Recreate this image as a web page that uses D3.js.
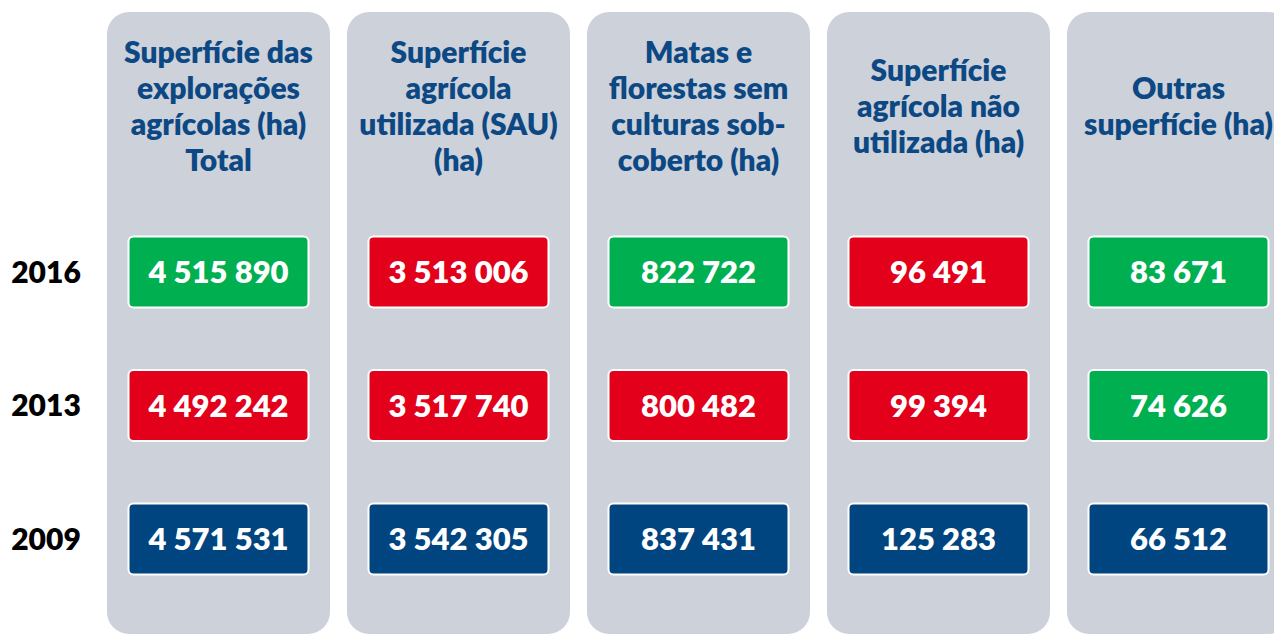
<!DOCTYPE html>
<html>
<head>
<meta charset="utf-8">
<script src="https://cdn.jsdelivr.net/npm/d3@7"></script>
<style>
  html, body { margin: 0; padding: 0; background: #fff; }
  text { font-family: Lato, "Open Sans", sans-serif; font-weight: 800; }
</style>
</head>
<body>
<div id="chart"></div>
<script>
  // column headers, already broken in lines as in the original slide
  const categories = [
    ["Superfície das", "explorações", "agrícolas (ha)", "Total"],
    ["Superfície", "agrícola", "utilizada (SAU)", "(ha)"],
    ["Matas e", "florestas sem", "culturas sob-", "coberto (ha)"],
    ["Superfície", "agrícola não", "utilizada (ha)"],
    ["Outras", "superfície (ha)"]
  ];
  const years = ["2016", "2013", "2009"];
  const values2016 = [4515890, 3513006, 822722, 96491, 83671];
  const values2013 = [4492242, 3517740, 800482, 99394, 74626];
  const values2009 = [4571531, 3542305, 837431, 125283, 66512];
  // up = grew vs previous survey, down = fell, base = reference year
  const trend2016 = ["up", "down", "up", "down", "up"];
  const trend2013 = ["down", "down", "down", "down", "up"];
  const trend2009 = ["base", "base", "base", "base", "base"];

  const width = 1274;
  const height = 634;
  const panelTop = 12;
  const boxW = 180;
  const boxH = 71;
  const colors = { up: "#00B050", down: "#E2001A", base: "#004480" };

  const svg = d3.select("#chart")
    .append("svg")
    .attr("width", width)
    .attr("height", height);

  const x = d3.scaleBand()
    .domain(d3.range(categories.length))
    .range([107, 1290])
    .paddingInner(17 / 240)
    .paddingOuter(0);

  const y = d3.scalePoint()
    .domain(years)
    .range([272, 539]);

  const rows = [
    { year: "2016", values: values2016, trend: trend2016 },
    { year: "2013", values: values2013, trend: trend2013 },
    { year: "2009", values: values2009, trend: trend2009 }
  ];

  const fmt = v => d3.format(",")(v).replace(/,/g, " ");

  // grey columns
  svg.selectAll("rect.panel")
    .data(categories)
    .enter()
    .append("rect")
    .attr("class", "panel")
    .attr("x", (d, i) => x(i))
    .attr("y", panelTop)
    .attr("width", x.bandwidth())
    .attr("height", height - panelTop)
    .attr("rx", 22)
    .attr("fill", "#CDD1DA");

  // headers
  const lineH = 36;
  const headers = svg.selectAll("text.header")
    .data(categories)
    .enter()
    .append("text")
    .attr("class", "header")
    .attr("text-anchor", "middle")
    .attr("font-size", 30)
    .attr("fill", "#0C4883");

  headers.each(function (lines, i) {
    const t = d3.select(this);
    const top = 106 - (lines.length - 1) * lineH / 2;
    lines.forEach((ln, j) => {
      t.append("tspan")
        .attr("x", x(i) + x.bandwidth() / 2)
        .attr("y", top + j * lineH)
        .attr("dy", "0.35em")
        .text(ln);
    });
  });

  // year labels
  svg.selectAll("text.year")
    .data(years)
    .enter()
    .append("text")
    .attr("class", "year")
    .attr("x", 46)
    .attr("y", d => y(d))
    .attr("dy", "0.35em")
    .attr("text-anchor", "middle")
    .attr("font-size", 30)
    .attr("fill", "#000")
    .text(d => d);

  // value boxes
  const rowG = svg.selectAll("g.row")
    .data(rows)
    .enter()
    .append("g")
    .attr("class", "row");

  const cells = rowG.selectAll("g.cell")
    .data(r => r.values.map((v, i) => ({ v: v, i: i, trend: r.trend[i], year: r.year })))
    .enter()
    .append("g")
    .attr("class", "cell");

  cells.append("rect")
    .attr("x", d => x(d.i) + x.bandwidth() / 2 - boxW / 2)
    .attr("y", d => y(d.year) - boxH / 2)
    .attr("width", boxW)
    .attr("height", boxH)
    .attr("rx", 5)
    .attr("fill", d => colors[d.trend])
    .attr("stroke", "#fff")
    .attr("stroke-width", 2);

  cells.append("text")
    .attr("x", d => x(d.i) + x.bandwidth() / 2)
    .attr("y", d => y(d.year))
    .attr("dy", "0.36em")
    .attr("text-anchor", "middle")
    .attr("font-size", 31)
    .attr("fill", "#fff")
    .text(d => fmt(d.v));
</script>
</body>
</html>
